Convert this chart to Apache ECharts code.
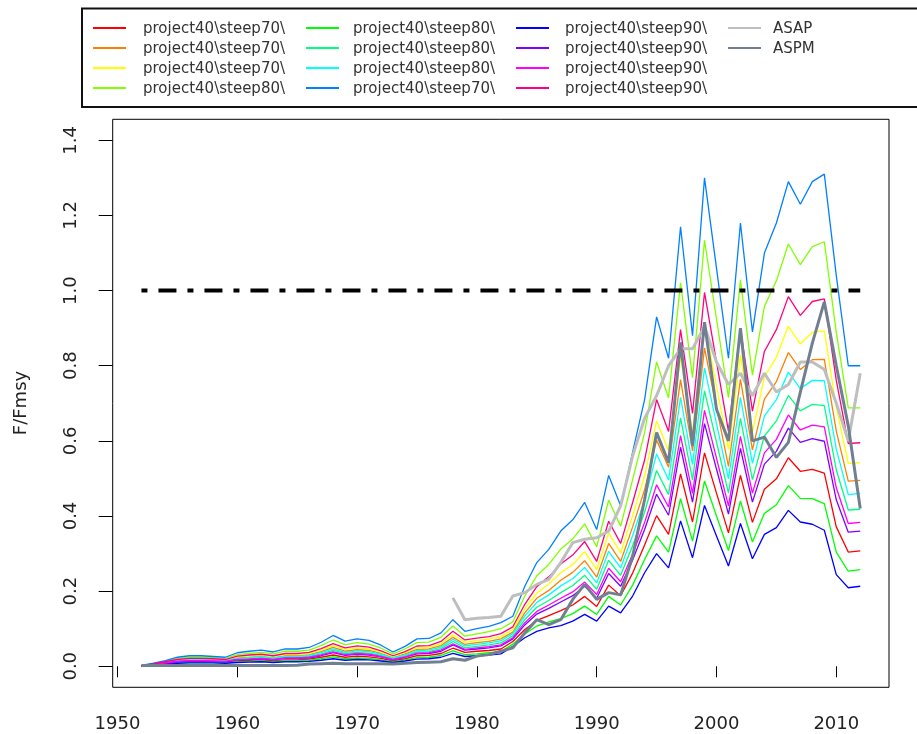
<!DOCTYPE html>
<html><head><meta charset="utf-8">
<script src="https://cdn.jsdelivr.net/npm/echarts@6/dist/echarts.min.js"></script>
<style>html,body{margin:0;padding:0;background:#fff}#c{width:917px;height:734px}</style>
</head><body><div id="c"></div>
<script>
const years = [1952,1953,1954,1955,1956,1957,1958,1959,1960,1961,
  1962,1963,1964,1965,1966,1967,1968,1969,1970,1971,
  1972,1973,1974,1975,1976,1977,1978,1979,1980,1981,
  1982,1983,1984,1985,1986,1987,1988,1989,1990,1991,
  1992,1993,1994,1995,1996,1997,1998,1999,2000,2001,
  2002,2003,2004,2005,2006,2007,2008,2009,2010,2011,
  2012];

const red70 = [0,.004,.007,.011,.012,.012,.012,.011,.014,.016,
  .017,.014,.017,.017,.019,.024,.030,.024,.027,.025,
  .021,.014,.020,.028,.029,.034,.048,.037,.040,.042,
  .046,.066,.098,.122,.135,.148,.163,.186,.159,.216,
  .188,.248,.323,.401,.351,.512,.384,.568,.461,.355,
  .508,.383,.471,.499,.555,.519,.524,.514,.371,.304,
  .307];
const orange70 = [.001,.005,.010,.016,.018,.018,.017,.016,.022,.025,
  .027,.023,.028,.028,.031,.039,.050,.040,.044,.042,
  .034,.023,.033,.045,.046,.055,.077,.058,.063,.066,
  .073,.091,.142,.181,.202,.229,.250,.281,.237,.327,
  .279,.371,.470,.602,.530,.763,.573,.847,.689,.532,
  .764,.576,.711,.758,.835,.790,.816,.817,.626,.493,
  .495];
const yellow70 = [.001,.006,.011,.017,.020,.020,.019,.017,.025,.027,
  .029,.026,.031,.031,.034,.043,.055,.045,.049,.046,
  .038,.026,.036,.049,.050,.060,.084,.064,.068,.073,
  .079,.098,.153,.195,.219,.249,.271,.305,.257,.355,
  .302,.401,.507,.653,.574,.825,.620,.916,.746,.577,
  .828,.624,.770,.823,.905,.858,.889,.893,.690,.540,
  .542];
const chartreuse80 = [.002,.007,.013,.021,.024,.024,.023,.021,.031,.034,
  .037,.033,.040,.040,.043,.055,.070,.057,.063,.059,
  .048,.033,.046,.063,.064,.077,.107,.080,.086,.092,
  .100,.118,.187,.241,.271,.312,.339,.379,.318,.442,
  .373,.497,.622,.810,.714,1.021,.768,1.134,.925,.715,
  1.028,.775,.958,1.026,1.124,1.069,1.117,1.130,.889,.688,
  .688];
const green80 = [0,.003,.007,.009,.010,.010,.010,.009,.012,.013,
  .014,.012,.015,.015,.016,.020,.025,.020,.022,.021,
  .017,.012,.017,.023,.024,.029,.041,.031,.033,.036,
  .039,.059,.086,.107,.118,.127,.140,.160,.138,.186,
  .163,.216,.284,.347,.304,.446,.333,.493,.400,.308,
  .440,.331,.407,.430,.481,.447,.446,.433,.304,.253,
  .257];
const springgreen80 = [.001,.005,.009,.014,.016,.016,.015,.014,.019,.021,
  .023,.020,.024,.024,.026,.033,.042,.034,.037,.035,
  .029,.020,.028,.038,.039,.047,.066,.049,.053,.057,
  .062,.081,.124,.157,.175,.196,.215,.242,.205,.282,
  .242,.321,.410,.521,.457,.661,.496,.733,.597,.461,
  .660,.497,.613,.653,.721,.680,.697,.694,.523,.416,
  .418];
const cyan80 = [.001,.005,.010,.015,.017,.017,.016,.015,.021,.023,
  .025,.022,.026,.026,.029,.036,.046,.037,.041,.039,
  .032,.022,.030,.042,.043,.051,.072,.054,.058,.062,
  .068,.087,.134,.170,.190,.214,.233,.263,.222,.306,
  .262,.348,.443,.565,.496,.716,.537,.794,.646,.499,
  .716,.540,.666,.710,.783,.739,.761,.760,.578,.457,
  .460];
const azure70 = [.002,.008,.015,.024,.028,.028,.026,.024,.036,.040,
  .043,.038,.046,.046,.050,.064,.082,.067,.073,.069,
  .056,.038,.053,.073,.074,.089,.124,.093,.100,.106,
  .116,.133,.213,.276,.311,.360,.390,.436,.364,.508,
  .427,.570,.710,.930,.820,1.170,.880,1.300,1.060,.820,
  1.180,.890,1.100,1.180,1.290,1.230,1.290,1.310,1.040,.800,
  .800];
const blue90 = [0,.003,.006,.008,.009,.009,.009,.008,.010,.011,
  .012,.010,.012,.012,.013,.016,.020,.016,.018,.017,
  .014,.010,.014,.019,.020,.024,.034,.026,.028,.030,
  .033,.053,.076,.093,.102,.108,.120,.138,.120,.160,
  .142,.187,.249,.300,.262,.387,.289,.428,.347,.267,
  .380,.286,.351,.369,.415,.384,.378,.362,.244,.209,
  .213];
const purple90 = [.001,.004,.008,.012,.014,.014,.013,.012,.017,.018,
  .020,.017,.021,.021,.022,.028,.036,.029,.032,.030,
  .025,.017,.024,.033,.034,.040,.057,.043,.046,.049,
  .054,.073,.110,.139,.154,.171,.188,.213,.181,.247,
  .213,.283,.364,.458,.402,.583,.437,.646,.525,.405,
  .580,.437,.538,.572,.634,.596,.606,.599,.443,.357,
  .360];
const magenta90 = [.001,.004,.009,.013,.015,.015,.014,.013,.018,.019,
  .021,.018,.022,.022,.024,.030,.038,.031,.034,.032,
  .026,.018,.025,.035,.036,.043,.060,.045,.049,.052,
  .057,.076,.116,.146,.163,.181,.198,.224,.191,.261,
  .225,.298,.383,.483,.424,.614,.460,.681,.554,.427,
  .612,.461,.568,.604,.669,.629,.642,.637,.475,.380,
  .383];
const pink90 = [.001,.006,.012,.018,.021,.021,.020,.018,.027,.030,
  .032,.028,.034,.034,.037,.047,.060,.049,.054,.051,
  .041,.028,.039,.054,.055,.066,.093,.070,.075,.079,
  .087,.105,.165,.212,.238,.272,.296,.332,.279,.386,
  .327,.436,.549,.710,.625,.896,.673,.995,.810,.626,
  .900,.679,.838,.896,.984,.934,.971,.978,.761,.593,
  .595];
const asap = [null,null,null,null,null,null,null,null,null,null,
  null,null,null,null,null,null,null,null,null,null,
  null,null,null,null,null,null,.182,.124,.128,.130,
  .133,.187,.196,.218,.231,.276,.329,.338,.342,.360,
  .427,.560,.660,.720,.800,.845,.845,.905,.810,.750,
  .780,.720,.780,.730,.750,.810,.810,.790,.700,.600,
  .780];
const aspm = [.002,.002,.002,.002,.002,.002,.002,.002,.002,.002,
  .002,.002,.002,.003,.006,.007,.008,.007,.007,.007,
  .007,.006,.008,.010,.011,.012,.020,.016,.027,.031,
  .040,.049,.089,.124,.111,.124,.178,.218,.178,.196,
  .190,.293,.444,.622,.542,.862,.587,.916,.684,.600,
  .900,.600,.610,.556,.596,.730,.860,.970,.800,.640,
  .420];

const xTicks = [1950,1960,1970,1980,1990,2000,2010];
const yTicks = [0,0.2,0.4,0.6,0.8,1.0,1.2,1.4];
const refLine = {from:1952, to:2012, value:1.0};

const seriesDefs = [
  {name:'project40\\steep70\\', color:'#FF0000', data:red70},
  {name:'project40\\steep70\\', color:'#FF8000', data:orange70},
  {name:'project40\\steep70\\', color:'#FFFF00', data:yellow70},
  {name:'project40\\steep80\\', color:'#80FF00', data:chartreuse80},
  {name:'project40\\steep80\\', color:'#00FF00', data:green80},
  {name:'project40\\steep80\\', color:'#00FF80', data:springgreen80},
  {name:'project40\\steep80\\', color:'#00FFFF', data:cyan80},
  {name:'project40\\steep70\\', color:'#0080FF', data:azure70},
  {name:'project40\\steep90\\', color:'#0000FF', data:blue90},
  {name:'project40\\steep90\\', color:'#8000FF', data:purple90},
  {name:'project40\\steep90\\', color:'#FF00FF', data:magenta90},
  {name:'project40\\steep90\\', color:'#FF0080', data:pink90},
  {name:'ASAP', color:'#BEBEBE', data:asap, width:3},
  {name:'ASPM', color:'#708090', data:aspm, width:3}
];

const series = seriesDefs.map((d, k) => ({
  type:'line', name:d.name, showSymbol:false, symbol:'none', silent:true,
  data: years.map((yr,i) => [yr, d.data[i]]),
  lineStyle:{color:d.color, width:d.width || 1.3},
  itemStyle:{color:d.color}, z: 2 + k/100
}));
series.push({
  type:'line', name:'ref', showSymbol:false, symbol:'none', silent:true,
  data:[[refLine.from, refLine.value],[refLine.to, refLine.value]],
  lineStyle:{color:'#000', width:4, type:[6,11,18,11], cap:'butt'}, z:3
});

// legend drawn as graphic (4 columns x 4 rows)
const colX = [93, 306, 516, 728], colTextX = [143, 353, 565, 773], rowY = [28, 48, 68, 88];
const graphics = [{type:'rect', shape:{x:82, y:8.5, width:860, height:98.5},
  style:{fill:'none', stroke:'#111', lineWidth:2}}];
seriesDefs.forEach((d, k) => {
  const col = Math.floor(k/4), row = k % 4;
  graphics.push({type:'line', shape:{x1:colX[col], y1:rowY[row], x2:colX[col]+33, y2:rowY[row]},
    style:{stroke:d.color, lineWidth:2}});
  graphics.push({type:'text', x:colTextX[col], y:rowY[row]+1,
    style:{text:d.name, font:'15px "DejaVu Sans"', fill:'#333', align:'left', verticalAlign:'middle'}});
});
graphics.push({type:'text', x:21, y:403, rotation:Math.PI/2,
  style:{text:'F/Fmsy', font:'18px "DejaVu Sans"', fill:'#222', align:'center', verticalAlign:'middle'}});

const chart = echarts.init(document.getElementById('c'), null, {renderer:'canvas', width:917, height:734});
chart.setOption({
  animation:false,
  backgroundColor:'#fff',
  grid:{left:112.7, right:28, top:119.3, bottom:46.7, show:true, borderColor:'#000', borderWidth:1, backgroundColor:'transparent'},
  xAxis:{type:'value', min:1949.6, max:2014.4,
    axisLine:{show:false}, splitLine:{show:false},
    axisTick:{show:true, length:11, lineStyle:{color:'#000', width:1}, customValues:xTicks},
    axisLabel:{customValues:xTicks, margin:28, fontSize:18, fontFamily:'DejaVu Sans', color:'#222', formatter:v=>String(v)}},
  yAxis:{type:'value', min:-0.056, max:1.456,
    axisLine:{show:false}, splitLine:{show:false},
    axisTick:{show:true, length:14, lineStyle:{color:'#000', width:1}, customValues:yTicks},
    axisLabel:{customValues:yTicks, rotate:90, margin:32, fontSize:18, fontFamily:'DejaVu Sans', color:'#222', formatter:v=>v.toFixed(1)}},
  series: series,
  graphic: graphics
});
</script></body></html>
